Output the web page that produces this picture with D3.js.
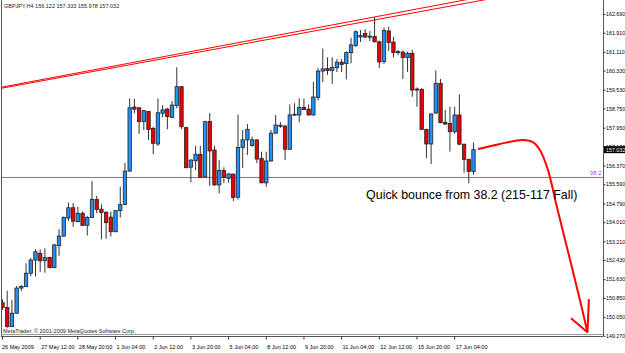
<!DOCTYPE html>
<html>
<head>
<meta charset="utf-8">
<script src="https://cdn.jsdelivr.net/npm/d3@7"></script>
<style>
body { margin: 0; background: #fff; }
svg { display: block; }
</style>
</head>
<body>
<div id="chart"></div>
<script>
// GBPJPY H4 bars, first bar 26 May 2009 04:00
let opens = [150.65, 150.45, 149.65, 150.21, 151.26, 151.32, 151.88, 152.43, 152.71, 152.40,
    152.54, 152.11, 153.03, 153.43, 154.18, 154.61, 154.03, 154.38, 153.88, 154.20,
    154.96, 154.55, 154.42, 154.22, 153.61, 154.49, 154.75, 156.14, 158.81, 158.78,
    158.20, 158.62, 157.92, 157.27, 158.55, 158.73, 158.38, 158.87, 159.66, 157.95,
    156.30, 156.57, 156.84, 155.89, 158.21, 157.02, 155.56, 156.16, 155.84, 156.01,
    155.05, 157.12, 157.44, 157.20, 157.44, 156.67, 155.65, 156.56, 157.72, 158.02,
    158.02, 157.05, 158.47, 158.48, 158.79, 158.72, 158.48, 159.21, 160.31, 160.42,
    160.33, 160.45, 160.68, 160.62, 161.08, 161.38, 161.73, 161.88, 161.72, 161.75,
    161.53, 160.71, 161.98, 161.52, 161.08, 161.10, 160.87, 161.05, 159.52, 159.55,
    157.88, 157.27, 158.56, 159.80, 158.17, 158.13, 157.78, 158.48, 157.26, 156.63,
    156.122];
let highs = [150.79, 151.15, 150.76, 151.35, 151.39, 152.29, 152.51, 152.88, 152.88, 152.92,
    152.56, 153.10, 153.72, 154.25, 154.83, 154.81, 154.65, 154.45, 154.27, 155.73,
    155.10, 154.75, 154.47, 154.45, 154.52, 155.49, 156.48, 159.17, 159.15, 158.79,
    158.69, 158.64, 157.99, 159.17, 158.89, 158.76, 159.06, 160.47, 159.68, 157.99,
    156.63, 157.19, 157.19, 158.23, 158.56, 157.19, 156.60, 156.30, 156.05, 156.04,
    158.49, 157.85, 158.10, 157.58, 157.46, 156.95, 156.95, 157.85, 158.48, 158.19,
    158.04, 158.92, 158.97, 159.17, 159.17, 158.92, 159.87, 160.43, 161.25, 160.88,
    160.88, 160.81, 160.81, 161.13, 161.70, 162.01, 162.02, 162.06, 161.98, 162.56,
    161.58, 162.13, 162.16, 161.74, 161.19, 161.17, 161.12, 161.19, 159.63, 159.59,
    157.90, 158.54, 160.33, 159.98, 158.69, 158.82, 158.82, 159.34, 157.28, 156.65,
    157.333];
let lows = [150.35, 149.61, 149.64, 150.19, 151.14, 151.31, 151.76, 151.74, 151.94, 151.90,
    152.09, 152.10, 152.61, 153.39, 154.06, 153.81, 154.00, 153.85, 153.45, 154.18,
    154.39, 153.29, 153.32, 153.41, 153.59, 154.20, 154.72, 156.11, 158.55, 157.69,
    157.85, 157.44, 156.85, 157.19, 158.38, 157.88, 158.34, 158.76, 157.89, 156.26,
    155.67, 156.18, 155.86, 155.86, 155.52, 155.54, 155.21, 155.63, 155.65, 154.89,
    154.95, 156.27, 156.81, 157.16, 156.47, 155.63, 155.49, 156.53, 157.69, 157.94,
    156.60, 157.02, 158.45, 158.17, 158.69, 158.45, 158.45, 159.08, 159.85, 160.15,
    159.77, 160.27, 160.27, 159.96, 160.63, 161.31, 161.52, 161.69, 161.56, 161.50,
    160.44, 160.60, 161.15, 160.88, 160.98, 159.98, 160.28, 159.24, 158.82, 157.85,
    156.67, 156.43, 158.53, 158.13, 158.06, 156.95, 157.69, 157.23, 156.07, 155.63,
    155.978];
let closes = [150.46, 149.65, 150.21, 151.26, 151.33, 151.88, 152.43, 152.77, 152.40, 152.53,
    152.11, 153.06, 153.43, 154.20, 154.61, 154.05, 154.38, 153.87, 154.20, 154.96,
    154.54, 154.41, 153.99, 153.61, 154.49, 154.74, 156.14, 158.78, 158.72, 158.20,
    158.66, 157.88, 157.30, 158.57, 158.69, 158.41, 158.89, 159.66, 157.99, 156.28,
    156.60, 156.84, 155.88, 158.20, 156.98, 155.56, 156.17, 155.88, 156.02, 155.04,
    157.12, 157.44, 157.88, 157.44, 156.64, 155.65, 156.56, 157.72, 158.06, 158.05,
    157.05, 158.48, 158.51, 158.80, 158.70, 158.48, 159.23, 160.31, 160.40, 160.33,
    160.46, 160.68, 160.59, 161.08, 161.40, 161.95, 161.79, 161.73, 161.77, 161.53,
    160.69, 162.00, 161.50, 161.08, 161.12, 160.88, 161.05, 159.52, 159.56, 157.88,
    157.27, 158.52, 159.80, 158.16, 158.10, 157.78, 158.48, 157.26, 156.63, 156.12,
    157.032];

let xTickBars = [0, 8, 16, 24, 32, 40, 48, 56, 64, 72, 80, 88, 96];
let xTickLabels = ["26 May 2009", "27 May 12:00", "28 May 20:00", "1 Jun 04:00", "2 Jun 12:00",
    "3 Jun 20:00", "5 Jun 04:00", "8 Jun 12:00", "9 Jun 20:00", "11 Jun 04:00",
    "12 Jun 12:00", "15 Jun 20:00", "17 Jun 04:00"];
let yTickValues = [162.690, 161.910, 161.110, 160.330, 159.530, 158.750, 157.950, 157.170, 156.370,
    155.590, 154.790, 154.010, 153.210, 152.430, 151.630, 150.850, 150.050, 149.270];

let symbolTitle = "GBPJPY,H4";
let fibLevel = 155.89;
let fibLabel = "38.2";
// two red trendlines: [bar, price] anchors
let trendUpper = [[0, 159.645], [98, 163.269]];
let trendLower = [[0, 159.602], [98, 163.125]];
// hand drawn projection arrow, [bar, price]
let arrowPath = [[100.96, 157.06], [105.6, 157.27], [110.5, 157.44], [112.6, 157.35], [114.1, 157.02],
    [115.8, 156.19], [117.7, 154.65], [120.5, 152.44], [122.6, 150.76], [124.2, 149.42]];
let arrowWings = [[120.7, 150.0], [124.5, 150.8]];
let noteText = "Quick bounce from 38.2 (215-117 Fall)";
let notePos = [77.2, 154.98];

const W = 625, H = 353;
const plotLeft = 1, plotRight = 603, plotBottom = 336;
const smallFont = "'Liberation Sans', Arial, sans-serif";

let svg = d3.select("#chart").append("svg").attr("width", W).attr("height", H)
    .style("background", "#fff");

let x = d3.scaleLinear().domain([0, 100]).range([2.5, 473.5]);
let y = d3.scaleLinear().domain([149.27, 162.69]).range([335.8, 14]);

svg.append("clipPath").attr("id", "plotClip").append("rect")
    .attr("x", plotLeft).attr("y", 0).attr("width", plotRight - plotLeft).attr("height", plotBottom);

let plot = svg.append("g").attr("clip-path", "url(#plotClip)");

// fib level
plot.append("line").attr("x1", plotLeft).attr("x2", plotRight)
    .attr("y1", Math.round(y(fibLevel)) + 0.5).attr("y2", Math.round(y(fibLevel)) + 0.5)
    .attr("stroke", "#b050e0").attr("stroke-width", 1);
plot.append("text").text(fibLabel).attr("x", plotRight - 1.5).attr("y", y(fibLevel) - 2)
    .attr("text-anchor", "end").attr("fill", "#a040e0")
    .attr("style", "font: 6px " + smallFont);

// trendlines
[trendUpper, trendLower].forEach(t => {
    let slope = (t[1][1] - t[0][1]) / (t[1][0] - t[0][0]);
    let b0 = -1, b1 = 110;
    plot.append("line")
        .attr("x1", x(b0)).attr("y1", y(t[0][1] + slope * (b0 - t[0][0])))
        .attr("x2", x(b1)).attr("y2", y(t[0][1] + slope * (b1 - t[0][0])))
        .attr("stroke", "#f00").attr("stroke-width", 1);
});

// candles
let bars = d3.range(opens.length);
let bodyW = 3.4;
plot.selectAll("line.wick").data(bars).enter().append("line").attr("class", "wick")
    .attr("x1", i => x(i)).attr("x2", i => x(i))
    .attr("y1", i => y(highs[i])).attr("y2", i => y(lows[i]))
    .attr("stroke", "#333").attr("stroke-width", 1);
plot.selectAll("rect.body").data(bars).enter().append("rect").attr("class", "body")
    .attr("x", i => x(i) - bodyW / 2).attr("width", bodyW)
    .attr("y", i => y(Math.max(opens[i], closes[i])))
    .attr("height", i => Math.max(1, Math.abs(y(opens[i]) - y(closes[i]))))
    .attr("fill", i => closes[i] >= opens[i] ? "#1e90ff" : "#e80000")
    .attr("stroke", "#222").attr("stroke-width", 0.8);

// projection arrow
let line = d3.line().x(d => x(d[0])).y(d => y(d[1])).curve(d3.curveCatmullRom);
plot.append("path").attr("d", line(arrowPath)).attr("fill", "none")
    .attr("stroke", "#f00").attr("stroke-width", 2);
let tip = arrowPath[arrowPath.length - 1];
arrowWings.forEach(w => {
    plot.append("line").attr("x1", x(w[0])).attr("y1", y(w[1])).attr("x2", x(tip[0])).attr("y2", y(tip[1]))
        .attr("stroke", "#f00").attr("stroke-width", 2);
});

plot.append("text").text(noteText).attr("x", x(notePos[0])).attr("y", y(notePos[1]))
    .attr("fill", "#000").attr("style", "font: 12.4px " + smallFont);

// frame
svg.append("line").attr("x1", plotLeft + 0.5).attr("x2", plotLeft + 0.5).attr("y1", 0).attr("y2", plotBottom)
    .attr("stroke", "#555");
svg.append("line").attr("x1", plotLeft).attr("x2", plotRight).attr("y1", plotBottom + 0.5).attr("y2", plotBottom + 0.5)
    .attr("stroke", "#555");
svg.append("line").attr("x1", plotLeft).attr("x2", plotRight).attr("y1", plotBottom - 1.5).attr("y2", plotBottom - 1.5)
    .attr("stroke", "#999");

// y axis
let yAxis = d3.axisRight(y).tickValues(yTickValues).tickSize(2).tickPadding(0.5)
    .tickFormat(d3.format(".3f"));
let yg = svg.append("g").attr("transform", "translate(" + (plotRight + 0.5) + ",0)").call(yAxis);
yg.select(".domain").attr("stroke", "#555").attr("d", "M0,0V" + plotBottom);
yg.selectAll(".tick line").attr("stroke", "#333");
yg.selectAll("text").attr("fill", "#000").attr("style", "font: 5.3px " + smallFont);

// current price box
let lastY = y(closes[closes.length - 1]);
svg.append("rect").attr("x", plotRight + 1).attr("y", lastY - 3.5).attr("width", W - plotRight).attr("height", 7)
    .attr("fill", "#000");
svg.append("text").text(closes[closes.length - 1].toFixed(3)).attr("x", plotRight + 3)
    .attr("y", lastY).attr("dy", "0.35em").attr("fill", "#fff").attr("style", "font: 5.3px " + smallFont);

// x axis
let xg = svg.append("g").attr("transform", "translate(0," + (plotBottom + 0.5) + ")");
xTickBars.forEach((b, k) => {
    xg.append("line").attr("x1", x(b)).attr("x2", x(b)).attr("y1", 0).attr("y2", 3).attr("stroke", "#333");
    xg.append("text").text(xTickLabels[k]).attr("x", x(b) + (k === 0 ? -0.5 : 1)).attr("y", 12)
        .attr("fill", "#000").attr("style", "font: 5.5px " + smallFont);
});

// header & copyright
svg.append("text").text(symbolTitle + "  " + [opens, highs, lows, closes].map(a => a[a.length - 1].toFixed(3)).join(" "))
    .attr("x", 4).attr("y", 8).attr("fill", "#222").attr("style", "font: 5.5px " + smallFont);
svg.append("text").text("MetaTrader, \u00a9 2001-2009 MetaQuotes Software Corp.")
    .attr("x", 3).attr("y", plotBottom - 3).attr("fill", "#222").attr("style", "font: 5.5px " + smallFont);
</script>
</body>
</html>
